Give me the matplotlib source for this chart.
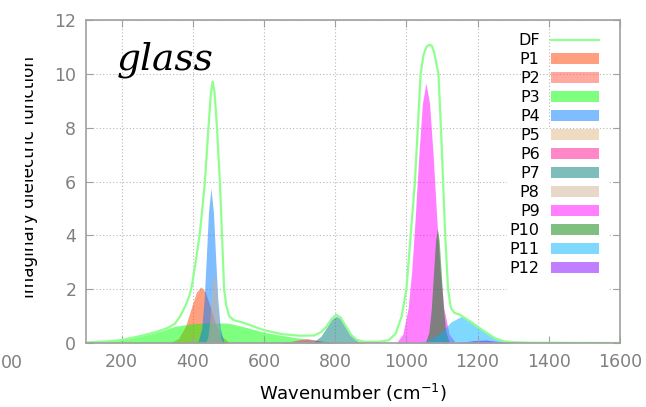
import matplotlib
matplotlib.use("Agg")
import matplotlib.pyplot as plt
from matplotlib.lines import Line2D
from matplotlib.patches import Patch, Rectangle
from matplotlib.transforms import Bbox, TransformedBbox

# total dielectric function (DF)
df_x = [100, 150, 200, 250, 300, 330, 350, 365, 380, 390, 397, 408, 419, 427, 434, 444, 451, 456,
        461, 468, 476, 482, 488, 494, 502, 515, 540, 570, 600, 650, 700, 740, 760, 775, 790,
        803, 815, 830, 845, 860, 880, 920, 950, 970, 987, 1000, 1012, 1024, 1032, 1040,
        1048, 1056, 1064, 1071, 1078, 1084, 1090, 1097, 1103, 1109, 1117, 1125, 1135,
        1150, 1170, 1200, 1225, 1250, 1275, 1300, 1350, 1600]
df_y = [0.02, 0.05, 0.11, 0.25, 0.42, 0.56, 0.72, 1.0, 1.4, 1.75, 2.1, 3.0, 4.0, 5.0, 6.0, 8.0, 9.3, 9.71,
        9.3, 8.0, 6.0, 4.0, 2.0, 1.4, 1.0, 0.85, 0.76, 0.62, 0.48, 0.33, 0.27, 0.28, 0.4, 0.6, 0.9,
        1.05, 0.95, 0.62, 0.3, 0.12, 0.05, 0.04, 0.1, 0.35, 1.0, 2.0, 4.0, 6.0, 8.0, 10.0,
        10.7, 11.0, 11.08, 11.05, 10.8, 10.4, 10.0, 8.0, 6.0, 4.0, 2.0, 1.3, 1.12,
        1.05, 0.88, 0.6, 0.38, 0.17, 0.06, 0.03, 0.01, 0.0]

# fitted components
p1_x = [340, 360, 380, 395, 410, 423, 435, 450, 465, 480, 500]
p1_y = [0.03, 0.17, 0.64, 1.27, 1.88, 2.09, 1.9, 1.31, 0.68, 0.26, 0.05]
p3_x = [100, 150, 200, 250, 300, 350, 400, 450, 500, 550, 600, 650, 700, 750, 800, 850]
p3_y = [0.02, 0.05, 0.11, 0.24, 0.40, 0.62, 0.72, 0.75, 0.74, 0.58, 0.40, 0.28, 0.18, 0.09, 0.03, 0.0]
p4_x = [405, 415, 425, 432, 438, 444, 451, 458, 464, 470, 477, 487, 497]
p4_y = [0.0, 0.06, 0.55, 1.65, 3.2, 4.85, 5.75, 4.85, 3.2, 1.65, 0.55, 0.06, 0.0]
p6_x = [640, 670, 695, 720, 745, 770, 800]
p6_y = [0.0, 0.04, 0.11, 0.16, 0.11, 0.04, 0.0]
p7_x = [720, 740, 760, 775, 790, 803, 815, 830, 845, 865, 885]
p7_y = [0.01, 0.05, 0.25, 0.56, 0.88, 1.0, 0.9, 0.58, 0.27, 0.06, 0.01]
p8_x = [436, 442, 447, 451, 455, 460, 465, 469, 473, 478, 484]
p8_y = [0.03, 0.21, 0.71, 1.40, 2.18, 2.65, 2.18, 1.40, 0.71, 0.21, 0.03]
p9_x = [975, 990, 1005, 1015, 1025, 1035, 1045, 1055, 1065, 1075, 1085, 1095, 1105, 1120, 1135]
p9_y = [0.06, 0.33, 1.3, 2.68, 4.7, 7.0, 8.9, 9.65, 8.9, 7.0, 4.7, 2.68, 1.3, 0.33, 0.06]
p10_x = [1054, 1063, 1070, 1076, 1082, 1087, 1092, 1098, 1104, 1111, 1120]
p10_y = [0.05, 0.39, 1.28, 2.57, 3.82, 4.24, 3.82, 2.57, 1.28, 0.39, 0.05]
p11_x = [1030, 1050, 1073, 1090, 1106, 1125, 1153, 1180, 1200, 1224, 1252, 1280, 1300]
p11_y = [0.0, 0.05, 0.18, 0.32, 0.5, 0.78, 0.98, 0.85, 0.65, 0.42, 0.18, 0.03, 0.0]
p12_x = [1130, 1160, 1190, 1224, 1255, 1290]
p12_y = [0.0, 0.04, 0.09, 0.11, 0.06, 0.0]

labels = ["P1", "P2", "P3", "P4", "P5", "P6", "P7", "P8", "P9", "P10", "P11", "P12"]
colors = ["#ff4000", "#ff5540", "#00ff00", "#007dff", "#e1b987", "#ff1191",
          "#007d7d", "#d2b291", "#ff00ff", "#008000", "#00b4ff", "#8000ff"]
# P2 and P5 are not visible in the picture
curves = {"P1": (p1_x, p1_y), "P3": (p3_x, p3_y), "P4": (p4_x, p4_y),
          "P6": (p6_x, p6_y), "P7": (p7_x, p7_y), "P8": (p8_x, p8_y),
          "P9": (p9_x, p9_y), "P10": (p10_x, p10_y), "P11": (p11_x, p11_y),
          "P12": (p12_x, p12_y)}
x_ticks = list(range(200, 1601, 200))
y_ticks = list(range(0, 13, 2))

gray = "#808080"
fig = plt.figure(figsize=(6.46, 4.07), dpi=100)
ax = fig.add_axes([86 / 646, 64 / 407, 534 / 646, 323 / 407])

# dotted grid drawn by hand so the legend's white box can sit over it but under the ticks
for xv in x_ticks:
    ax.axvline(xv, linestyle=(0, (1, 2)), color="#b8b8b8", linewidth=0.8, zorder=0.2)
for yv in y_ticks:
    ax.axhline(yv, linestyle=(0, (1, 2)), color="#b8b8b8", linewidth=0.8, zorder=0.2)
ax.add_patch(Rectangle((507, 25), 101, 253, transform=None, facecolor="white",
                       edgecolor="none", zorder=0.3))

for lab, col in zip(labels, colors):
    if lab in curves:
        xs, ys = curves[lab]
        ax.fill_between(xs, 0, ys, color=col, alpha=0.5, linewidth=0)
ax.plot(df_x, df_y, color="#90ff90", linewidth=1.6)

ax.set_xlim(100, 1600)
ax.set_ylim(0, 12)
ax.set_xticks(x_ticks)
ax.set_yticks(y_ticks)
ax.tick_params(direction="in", length=5, color="#a0a0a0", labelcolor=gray,
               labelsize=12.5, top=True, right=True, pad=7)
for sp in ax.spines.values():
    sp.set_color("#a0a0a0")
    sp.set_linewidth(1.2)
ax.set_xlabel("Wavenumber (cm$^{-1}$)", fontsize=13, labelpad=8)

handles = [Line2D([], [], color="#90ff90", linewidth=1.6)]
handles += [Patch(facecolor=c, alpha=0.5, linewidth=0) for c in colors]
leg = ax.legend(handles, ["DF"] + labels, loc="upper right",
                bbox_to_anchor=(610 / 646, 1 - 22 / 407), bbox_transform=fig.transFigure,
                markerfirst=False, fontsize=11.5, frameon=False,
                handlelength=3.0, handletextpad=0.7, labelspacing=0.25, borderpad=0.2)

fig.text(117 / 646, 1 - 69 / 407, "glass", fontsize=27, family="DejaVu Serif",
         style="italic", va="baseline", ha="left")

ylab = fig.text(34.5 / 646, 1 - 177 / 407, "Imaginary dielectric function", fontsize=12.2,
                rotation=90, rotation_mode="anchor", ha="center", va="baseline")
ylab.set_clip_on(True)
ylab.set_clip_box(TransformedBbox(Bbox([[24.5 / 646, 0], [1, 1]]), fig.transFigure))

fig.text(0.5 / 646, 1 - 363 / 407, "00", fontsize=12.5, color=gray, ha="left", va="center")

fig.savefig("out.png", dpi=100)
